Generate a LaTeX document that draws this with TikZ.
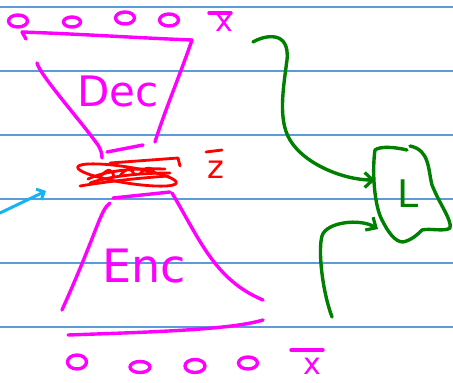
\documentclass[tikz,border=0pt]{standalone}
\usepackage{fontspec}
\setsansfont{DejaVu Sans}
\usetikzlibrary{arrows.meta,shapes.geometric}
\definecolor{ruled}{RGB}{91,155,220}
\definecolor{pen}{RGB}{255,0,255}
\definecolor{latent}{RGB}{255,0,0}
\definecolor{lossgreen}{RGB}{0,128,0}
\definecolor{cyanpen}{RGB}{20,180,240}
\tikzset{
  ruleline/.style={ruled,line width=1.3pt},
  mag/.style={pen,line width=3.4pt,line cap=round,line join=round},
  redpen/.style={latent,line width=2.8pt,line cap=round,line join=round},
  grn/.style={lossgreen,line width=3.4pt,line cap=round,line join=round},
  barb/.style={-{Straight Barb[length=8pt,width=15pt,line width=3.2pt]}},
  unit/.style={mag,ellipse,inner sep=0pt,draw},
  hand/.style={font=\sffamily\fontsize{#1}{#1}\selectfont,inner sep=0pt},
}
\begin{document}
\begin{tikzpicture}[x=1pt,y=-1pt]
\useasboundingbox (0,0) rectangle (453,383);
\fill[white] (0,0) rectangle (453,383);
% ruled lines
\foreach \yy in {7,71,135,199,263,327} \draw[ruleline] (0,\yy) -- (453,\yy);

% top units (reconstruction)
\node[unit,minimum width=19pt,minimum height=12pt] (t1) at (18,21) {};
\node[unit,minimum width=17pt,minimum height=10pt] (t2) at (72,22) {};
\node[unit,minimum width=19pt,minimum height=12pt] (t3) at (125,18) {};
\node[unit,minimum width=19pt,minimum height=12pt] (t4) at (169,20) {};
\node[pen,hand=30] (xtop) at (224,23) {x};
\draw[mag] (209,13) -- (231,13);

% decoder
\coordinate (dtl) at (22,32);
\coordinate (dtr) at (192,40);
\draw[mag] (dtl) .. controls (80,34) and (140,38) .. (dtr);
\draw[mag] (dtl) -- (26,39);
\draw[mag] (dtr) .. controls (180,75) and (165,110) .. (155,142);
\draw[mag] (37,63) .. controls (40,75) and (80,120) .. (98,145) .. controls (101,150) and (102,154) .. (102,158);
\draw[mag] (107,152) -- (143,145);
\node[pen,hand=42] (dec) at (118,91) {Dec};

% latent
\draw[redpen,rotate around={-9:(127,175)}] (127,175) ellipse (50pt and 8pt);
\draw[redpen] (110,163) -- (178,158) -- (180,166);
\draw[redpen] (88,179) .. controls (105,171) and (130,168) .. (165,169);
\draw[redpen] (90,183) .. controls (110,176) and (140,173) .. (170,173);
\draw[redpen] (80,186) .. controls (110,181) and (140,178) .. (168,176);
\draw[redpen] (100,177) .. controls (108,168) and (112,168) .. (114,177);
\draw[redpen] (120,176) .. controls (126,167) and (132,168) .. (134,174);
\draw[redpen] (140,174) .. controls (146,166) and (152,167) .. (154,172);
\node[latent,hand=32] (z) at (216,170) {z};
\draw[redpen] (206,152) -- (222,150);

% encoder
\draw[mag] (113,198) -- (170,192);
\draw[mag] (110,203) .. controls (100,210) and (98,230) .. (62,310);
\draw[mag] (172,193) .. controls (200,240) and (215,280) .. (263,300);
\draw[mag] (68,335) .. controls (150,332) and (230,330) .. (263,320);
\node[pen,hand=46,anchor=north] (enc) at (144,249) {Enc};

% bottom units (input)
\node[unit,minimum width=19pt,minimum height=14pt] (b1) at (77,362) {};
\node[unit,minimum width=20pt,minimum height=11pt] (b2) at (140,367) {};
\node[unit,minimum width=20pt,minimum height=13pt] (b3) at (195,366) {};
\node[unit,minimum width=19pt,minimum height=12pt] (b4) at (248,363) {};
\node[pen,hand=30] (xbot) at (312,366) {x};
\draw[mag] (291,350) -- (323,350);

% incoming cyan arrow
\coordinate (cyst) at (0,213);
\coordinate (cyen) at (46,191);
\draw[cyanpen,line width=3pt,line cap=round,-{Straight Barb[length=6pt,width=12pt,line width=3pt]}] (cyst) -- (cyen);

% loss blob
\coordinate (lossin1) at (375,180);
\coordinate (lossin2) at (378,229);
\draw[grn] (407,150) .. controls (395,147) and (380,146) .. (375,150) .. controls (372,170) and (374,205) .. (382,220) .. controls (388,232) and (395,242) .. (403,242) .. controls (412,240) and (418,234) .. (422,230) .. controls (430,228) and (445,232) .. (450,228) .. controls (452,220) and (440,205) .. (432,185) .. controls (428,170) and (430,150) .. (410,146);
\node[lossgreen,hand=38] (L) at (408,194) {L};

% green connectors
\coordinate (g1) at (253,42);
\coordinate (g2) at (332,317);
\draw[grn,barb] (g1) .. controls (265,35) and (290,30) .. (287,60) .. controls (283,90) and (278,120) .. (290,140) .. controls (305,165) and (345,180) .. (lossin1);
\draw[grn,barb] (g2) .. controls (322,290) and (318,250) .. (322,236) .. controls (326,222) and (360,218) .. (lossin2);
\end{tikzpicture}
\end{document}
